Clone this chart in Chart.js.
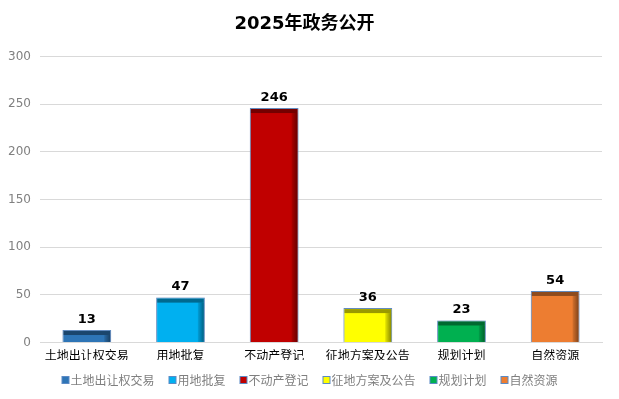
<!DOCTYPE html>
<html>
<head>
<meta charset="utf-8">
<script src="https://cdn.jsdelivr.net/npm/chart.js@4.4.1/dist/chart.umd.min.js"></script>
<style>
  html, body { margin: 0; padding: 0; background: #fff; }
  #wrap { width: 619px; height: 399px; }
</style>
</head>
<body>
<div id="wrap"><canvas id="c"></canvas></div>
<script>
const categories = ['土地出让权交易', '用地批复', '不动产登记', '征地方案及公告', '规划计划', '自然资源'];
const values = [13, 47, 246, 36, 23, 54];
const barColors = ['#2e75b6', '#00b0f0', '#c00000', '#ffff00', '#00b050', '#ed7d31'];
const yTicks = [0, 50, 100, 150, 200, 250, 300];

const FONT = "'Noto Sans CJK SC', 'DejaVu Sans', sans-serif";
const NUM_FONT = "'DejaVu Sans', 'Noto Sans CJK SC', sans-serif";

// glow + bevel for the "3D" bars, value labels on top
const bevel = {
    id: 'bevel',
    beforeDatasetDraw: (chart) => {
        const ctx = chart.ctx;
        ctx.save();
        ctx.shadowColor = 'rgba(130, 150, 180, 0.6)';
        ctx.shadowBlur = 9;
    },
    afterDatasetDraw: (chart) => {
        const ctx = chart.ctx;
        ctx.restore();
        const meta = chart.getDatasetMeta(0);
        meta.data.forEach((bar) => {
            const left = bar.x - bar.width / 2;
            const right = bar.x + bar.width / 2;
            const top = bar.y;
            const bottom = bar.base;
            ctx.save();
            ctx.fillStyle = 'rgba(0, 0, 0, 0.4)';
            ctx.fillRect(left + 1, top + 1, bar.width - 2, 4);
            const g = ctx.createLinearGradient(right - 7, 0, right - 1, 0);
            g.addColorStop(0, 'rgba(0, 0, 0, 0.1)');
            g.addColorStop(1, 'rgba(0, 0, 0, 0.45)');
            ctx.fillStyle = g;
            ctx.fillRect(right - 7, top + 5, 6, bottom - top - 5);
            ctx.restore();
        });
    },
    afterDatasetsDraw: (chart) => {
        const ctx = chart.ctx;
        const meta = chart.getDatasetMeta(0);
        ctx.save();
        ctx.font = 'bold 13px ' + NUM_FONT;
        ctx.fillStyle = '#000';
        ctx.textAlign = 'center';
        ctx.textBaseline = 'bottom';
        meta.data.forEach((bar, i) => {
            ctx.fillText(values[i], bar.x, bar.y - 4);
        });
        ctx.restore();
    }
};

// compact legend row at the bottom
const bottomLegend = {
    id: 'bottomLegend',
    afterDraw: (chart) => {
        const ctx = chart.ctx;
        const box = 8, gapIn = 1, gapOut = 14, y = 380;
        ctx.save();
        ctx.font = '12px ' + FONT;
        const widths = categories.map(c => box + gapIn + ctx.measureText(c).width);
        const total = widths.reduce((a, b) => a + b, 0) + gapOut * (categories.length - 1);
        let x = (chart.width - total) / 2;
        ctx.textBaseline = 'middle';
        categories.forEach((c, i) => {
            ctx.fillStyle = barColors[i];
            ctx.fillRect(x + 0.5, y - 4 + 0.5, box - 1, box - 1);
            ctx.strokeStyle = '#5b8ac5';
            ctx.lineWidth = 1;
            ctx.strokeRect(x + 0.5, y - 4 + 0.5, box - 1, box - 1);
            ctx.fillStyle = '#7f7f7f';
            ctx.fillText(c, x + box + gapIn, y);
            x += widths[i] + gapOut;
        });
        ctx.restore();
    }
};

new Chart(document.getElementById('c'), {
    type: 'bar',
    data: {
        labels: categories,
        datasets: [{
            data: values,
            backgroundColor: barColors,
            borderColor: '#5b8ac5',
            borderWidth: 1,
            barPercentage: 0.52,
            categoryPercentage: 1
        }]
    },
    options: {
        responsive: true,
        maintainAspectRatio: false,
        animation: false,
        layout: { padding: { left: 7, right: 17, top: 0, bottom: 39 } },
        scales: {
            y: {
                min: 0,
                max: 300,
                afterBuildTicks: (axis) => { axis.ticks = yTicks.map(v => ({ value: v })); },
                afterFit: (axis) => { axis.width = 33; },
                grid: { color: '#d9d9d9', drawTicks: false },
                border: { display: false },
                ticks: { color: '#808080', padding: 9, font: { family: NUM_FONT, size: 12 } }
            },
            x: {
                grid: { display: false },
                border: { color: '#d9d9d9' },
                ticks: { color: '#000', padding: 0, font: { family: FONT, size: 12, lineHeight: 0.8 } }
            }
        },
        plugins: {
            title: {
                display: true,
                text: '2025年政务公开',
                color: '#000',
                font: { family: NUM_FONT, size: 18, weight: 'bold' },
                padding: { top: 14, bottom: 21 }
            },
            legend: { display: false },
            tooltip: { enabled: false }
        }
    },
    plugins: [bevel, bottomLegend]
});
</script>
</body>
</html>
